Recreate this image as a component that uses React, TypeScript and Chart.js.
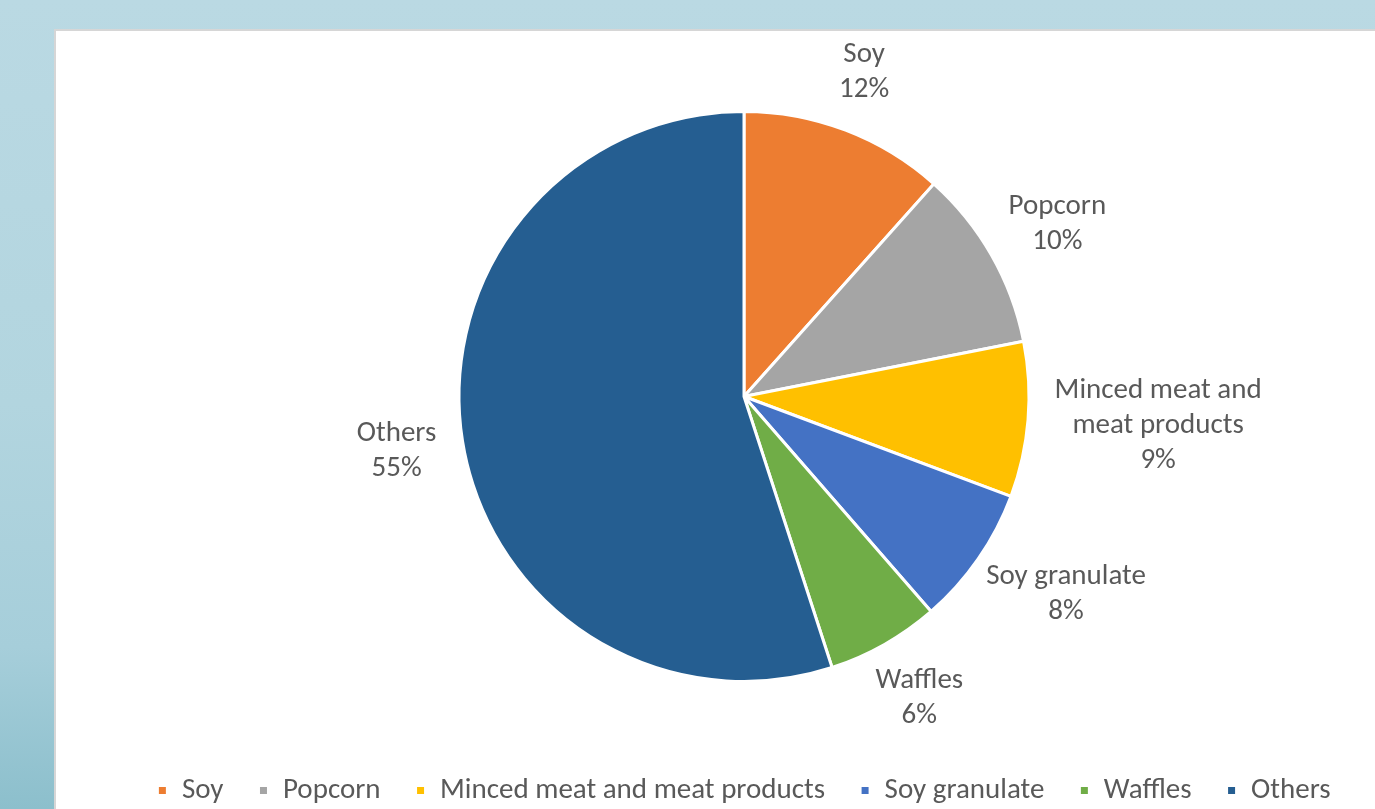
import React, { useEffect, useRef } from "react";
import { Chart, registerables } from "chart.js";

Chart.register(...registerables);

const categories = ["Soy", "Popcorn", "Minced meat and meat products", "Soy granulate", "Waffles", "Others"];
const labelLines = [["Soy"], ["Popcorn"], ["Minced meat and", "meat products"], ["Soy granulate"], ["Waffles"], ["Others"]];
const shares = [11.6, 10.3, 8.8, 7.9, 6.4, 55.0];
const colors = ["#ED7D31", "#A5A5A5", "#FFC000", "#4472C4", "#70AD47", "#255E91"];

const FONT = "Carlito, Lato, 'Open Sans', sans-serif";
const TEXT_COLOR = "#595959";
const FONT_SIZE = 29;
const LINE_H = 35;

const outsideLabels = {
  id: "outsideLabels",
  afterDatasetsDraw(chart: any) {
    const ctx = chart.ctx;
    const meta = chart.getDatasetMeta(0);
    const data = chart.data.datasets[0].data as number[];
    const total = data.reduce((a: number, b: number) => a + b, 0);
    ctx.save();
    ctx.font = `${FONT_SIZE}px ${FONT}`;
    ctx.fillStyle = TEXT_COLOR;
    ctx.textAlign = "center";
    ctx.textBaseline = "middle";
    meta.data.forEach((arc: any, i: number) => {
      const { x, y, startAngle, endAngle, outerRadius } = arc.getProps(["x", "y", "startAngle", "endAngle", "outerRadius"], true);
      const mid = (startAngle + endAngle) / 2;
      const cos = Math.cos(mid);
      const sin = Math.sin(mid);
      const lines = [...labelLines[i], `${Math.round((data[i] / total) * 100)}%`];
      const w = Math.max(...lines.map((l) => ctx.measureText(l).width));
      const h = lines.length * LINE_H;
      const gap = 27;
      const ax = x + cos * (outerRadius + gap);
      const ay = y + sin * (outerRadius + gap);
      const cx = ax + (cos * w) / 2;
      const cy = ay + (sin * h) / 2;
      lines.forEach((l, k) => {
        ctx.fillText(l, cx, cy - h / 2 + LINE_H / 2 + k * LINE_H);
      });
    });
    ctx.restore();
  },
};

export default function App() {
  const ref = useRef<HTMLCanvasElement>(null);
  useEffect(() => {
    if (!ref.current) return;
    const chart = new Chart(ref.current, {
      type: "pie",
      data: {
        labels: categories,
        datasets: [
          {
            data: shares,
            backgroundColor: colors,
            borderColor: "#ffffff",
            borderWidth: 3,
            radius: 285,
          } as any,
        ],
      },
      options: {
        animation: false,
        responsive: false,
        devicePixelRatio: 1,
        layout: { padding: { top: 52, bottom: 0, left: 0, right: 0 } },
        plugins: {
          tooltip: { enabled: false },
          legend: {
            position: "bottom",
            labels: {
              boxWidth: 10,
              boxHeight: 10,
              padding: 35,
              color: TEXT_COLOR,
              font: { family: FONT, size: FONT_SIZE },
            },
          },
        },
      },
      plugins: [outsideLabels],
    });
    return () => chart.destroy();
  }, []);

  return (
    <div
      style={{
        position: "fixed",
        left: 0,
        top: 0,
        width: 1375,
        height: 809,
        overflow: "hidden",
        background: "linear-gradient(180deg, #bad9e3 0%, #b2d5df 50%, #a6ceda 80%, #8cbfcc 100%)",
      }}
    >
      <div
        style={{
          position: "absolute",
          left: 54,
          top: 29,
          width: 1400,
          height: 820,
          background: "#ffffff",
          border: "2px solid #d6d6d6",
          boxSizing: "border-box",
        }}
      />
      <canvas ref={ref} width={1488} height={815} style={{ position: "absolute", left: 0, top: 0, width: 1488, height: 815 }} />
    </div>
  );
}
